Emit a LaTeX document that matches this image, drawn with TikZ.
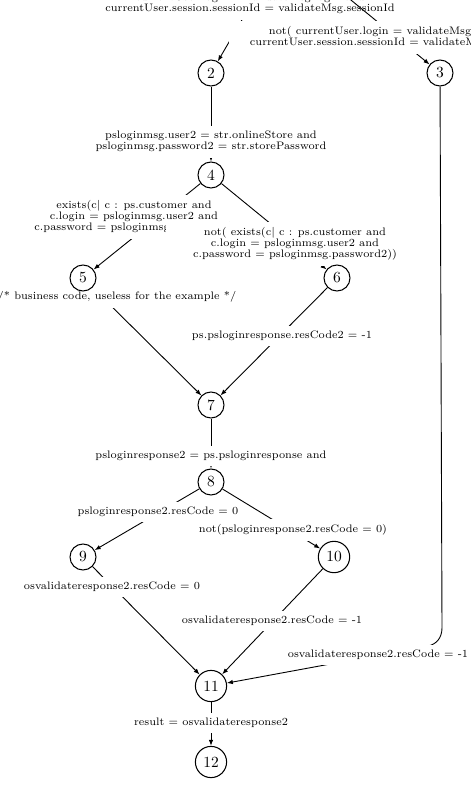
\documentclass[tikz,border=0pt]{standalone}
\usepackage{graphicx}
\usetikzlibrary{arrows.meta}
\pgfdeclarelayer{bg}
\pgfsetlayers{bg,main}
\newcommand{\glab}[1]{\scalebox{1.55}{\fontsize{7}{7}\selectfont\begin{tabular}{@{}c@{}}#1\end{tabular}}}
\newcommand{\gnum}[1]{\scalebox{1.55}{\fontsize{10}{12}\selectfont #1}}
\tikzset{
  st/.style={circle, draw, line width=1.05pt, inner sep=4.5pt, minimum size=26pt, fill=white},
  lab/.style={fill=white, inner xsep=21pt, inner ysep=5pt},
  edg/.style={line width=0.9pt, -{Latex[length=6pt,width=4.5pt]}},
}
\begin{document}
\begin{tikzpicture}[x=1pt,y=-1pt]
\useasboundingbox (0,0) rectangle (471,787);
\clip (0,0) rectangle (471,787);
\coordinate (n1) at (285,-54);
\node[st] (n2) at (211,73) {\gnum{2}};
\node[st] (n3) at (440,73) {\gnum{3}};
\node[st] (n4) at (211,175) {\gnum{4}};
\node[st] (n5) at (83,278) {\gnum{5}};
\node[st] (n6) at (337,278) {\gnum{6}};
\node[st] (n7) at (211,405) {\gnum{7}};
\node[st] (n8) at (211,482) {\gnum{8}};
\node[st] (n9) at (83,557) {\gnum{9}};
\node[st] (n10) at (334,557) {\gnum{10}};
\node[st] (n11) at (211,686) {\gnum{11}};
\node[st] (n12) at (211,762) {\gnum{12}};

\begin{pgfonlayer}{bg}
\clip (0,0) rectangle (471,787);
\draw[edg] (n1) -- (n2);
\node[lab] (l12) at (250,4) {\glab{currentUser.login = validateMsg.login and\\currentUser.session.sessionId = validateMsg.sessionId}};
\draw[edg] (n1) -- (n3);
\node[lab] (l13) at (397,37.5) {\glab{not( currentUser.login = validateMsg.login and\\currentUser.session.sessionId = validateMsg.sessionId)}};
\draw[edg] (n2) -- (n4);
\node[lab] (l24) at (211,142) {\glab{psloginmsg.user2 = str.onlineStore and\\psloginmsg.password2 = str.storePassword}};
\draw[edg] (n3) -- (442,628) .. controls (442,638) and (436,644.5) .. (428,646) -- (n11);
\node[lab] (l311) at (378,655) {\glab{osvalidateresponse2.resCode = -1}};
\draw[edg] (n4) -- (n5);
\node[lab] (l45) at (134,217) {\glab{exists(c| c : ps.customer and\\c.login = psloginmsg.user2 and\\c.password = psloginmsg.password2)}};
\draw[edg] (n4) -- (n6);
\node[lab, inner xsep=27pt] (l46) at (295,244) {\glab{not( exists(c| c : ps.customer and\\c.login = psloginmsg.user2 and\\c.password = psloginmsg.password2))}};
\draw[edg] (n5) -- (n7);
\node[lab] (l57) at (117,297) {\glab{/* business code, useless for the example */}};
\draw[edg] (n6) -- (n7);
\node[lab] (l67) at (282,336) {\glab{ps.psloginresponse.resCode2 = -1}};
\draw[edg] (n7) -- (n8);
\node[lab] (l78) at (211,456) {\glab{psloginresponse2 = ps.psloginresponse and}};
\draw[edg] (n8) -- (n9);
\node[lab] (l89) at (158,512) {\glab{psloginresponse2.resCode = 0}};
\draw[edg] (n8) -- (n10);
\node[lab] (l810) at (293,530) {\glab{not(psloginresponse2.resCode = 0)}};
\draw[edg] (n9) -- (n11);
\node[lab] (l911) at (112,587) {\glab{osvalidateresponse2.resCode = 0}};
\draw[edg] (n10) -- (n11);
\node[lab] (l1011) at (272,621) {\glab{osvalidateresponse2.resCode = -1}};
\draw[edg] (n11) -- (n12);
\node[lab] (l1112) at (211,723) {\glab{result = osvalidateresponse2}};
\end{pgfonlayer}
\end{tikzpicture}
\end{document}
